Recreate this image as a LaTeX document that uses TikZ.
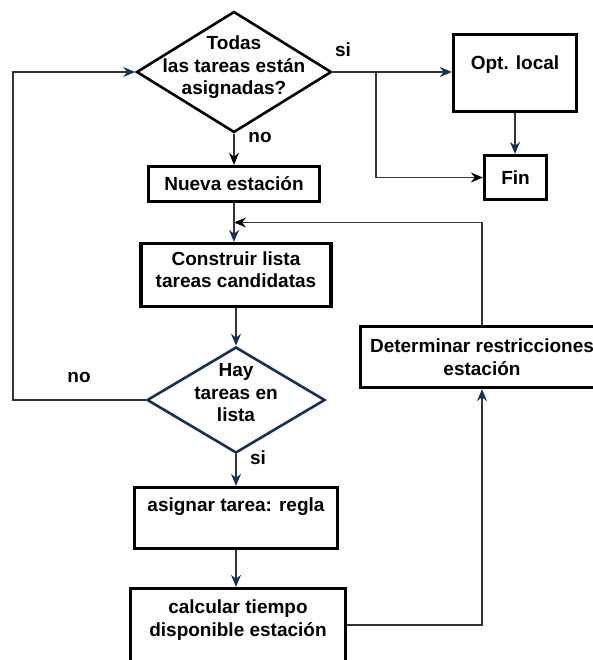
\documentclass[tikz,border=0pt]{standalone}
\usepackage{fontspec}
\setmainfont{Liberation Sans}
\usetikzlibrary{arrows.meta,shapes.geometric,calc}
\definecolor{azul}{RGB}{22,48,88}
\tikzset{
    texto/.style={font=\fontsize{19}{22.5}\selectfont\bfseries, align=center},
    paso/.style={texto, draw, rectangle, line width=3.3pt, inner sep=3pt},
    decision/.style={draw, shape=diamond, line width=2.6pt, inner sep=0pt},
    linea/.style={draw=black!80, line width=1.1pt},
    flecha/.style={linea, -{Stealth[length=12pt,width=10pt,inset=4pt,color=azul]}},
    flechan/.style={linea, -{Stealth[length=12pt,width=10pt,inset=4pt,color=black]}},
}

\begin{document}
\begin{tikzpicture}[x=1pt,y=-1pt]
    \useasboundingbox (0,0) rectangle (592,660);

    \node[decision, minimum width=195pt, minimum height=121pt,
        label={[texto, yshift=4.5pt]center:Todas\\las tareas están\\asignadas?}] (todas) at (234,72) {};
    \node[paso, minimum width=123pt, minimum height=77pt, text depth=20pt] (opt) at (515,73) {Opt. local};
    \node[paso, minimum width=62pt, minimum height=44pt] (fin) at (515.5,177.5) {Fin};
    \node[paso, minimum width=171pt, minimum height=35pt] (nueva) at (234,184) {Nueva estación};
    \node[paso, minimum width=190pt, minimum height=63pt, text depth=11pt] (lista) at (236,275) {Construir lista\\tareas candidatas};
    \node[decision, draw=azul, minimum width=178pt, minimum height=106pt,
        label={[texto, yshift=7pt]center:Hay\\tareas en\\lista}] (hay) at (236,400) {};
    \node[paso, minimum width=203pt, minimum height=61pt, text depth=26pt] (asignar) at (236,518) {asignar tarea: regla};
    \node[paso, minimum width=215pt, minimum height=73pt, text depth=14pt] (calcular) at (238,625) {calcular tiempo\\disponible estación};
    \node[paso, minimum width=243pt, minimum height=61pt] (restr) at (482,357) {Determinar restricciones\\estación};

    \node[texto] (si1) at (343,50) {si};
    \node[texto] (no1) at (260,137) {no};
    \node[texto] (no2) at (79,377) {no};
    \node[texto] (si2) at (258,458) {si};

    \coordinate (rama) at (376,72);
    \coordinate (izq) at (13,200);
    \coordinate (union) at ($(nueva.south)!.5!(nueva.south |- lista.north)$);

    \draw[flecha] (todas.east) -- (todas.east -| opt.west);
    \draw[flechan] (rama) |- (fin.west);
    \draw[flecha] (opt.south) -- (opt.south |- fin.north);
    \draw[flechan] (todas.south) -- (nueva.north);
    \draw[flecha] (nueva.south) -- (nueva.south |- lista.north);
    \draw[flechan] (restr.north) |- (union);
    \draw[flecha] (lista.south) -- (lista.south |- hay.north);
    \draw[flecha] (hay.west) -| (izq) |- (todas.west);
    \draw[flecha] (hay.south) -- (hay.south |- asignar.north);
    \draw[flecha] (asignar.south) -- (asignar.south |- calcular.north);
    \draw[flecha] (calcular.east) -| (restr.south);
\end{tikzpicture}
\end{document}
